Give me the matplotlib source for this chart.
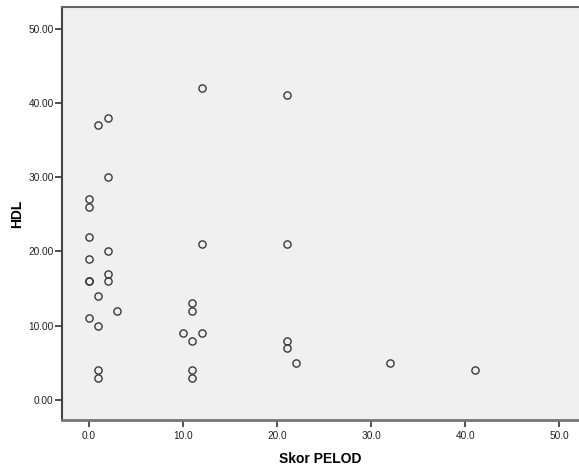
"""Scatter of HDL against Skor PELOD, SPSS-style."""

import matplotlib
matplotlib.use("Agg")
import matplotlib.pyplot as plt

plt.rcParams["font.family"] = ["Liberation Sans", "DejaVu Sans"]

# Values
skor_pelod = [1, 2, 12, 2, 0, 0, 0, 2, 0, 0, 0, 2, 2, 1, 3, 0, 1, 1, 1,
              12, 11, 11, 10, 12, 11, 11, 11,
              21, 21, 21, 21, 22, 32, 41]
hdl = [37, 38, 42, 30, 27, 26, 22, 20, 19, 16, 16, 17, 16, 14, 12, 11, 10, 4, 3,
       21, 13, 12, 9, 9, 8, 4, 3,
       41, 21, 8, 7, 5, 5, 4]

x_ticks = [0, 10, 20, 30, 40, 50]
y_ticks = [0, 10, 20, 30, 40, 50]

fig = plt.figure(figsize=(5.79, 4.67), dpi=100)
ax = fig.add_axes([62 / 579, 47 / 467, 517 / 579, 413 / 467])
ax.set_facecolor("#f0f0f0")

ax.plot(skor_pelod, hdl, linestyle="none", marker="o", markersize=5.2,
        markerfacecolor="none", markeredgecolor="#3a3a3a", markeredgewidth=1.0)

ax.set_xlim(-2.87, 52.1)
ax.set_ylim(-2.7, 52.9)
ax.set_xticks(x_ticks)
ax.set_xticklabels([f"{v:.1f}" for v in x_ticks])
ax.set_yticks(y_ticks)
ax.set_yticklabels([f"{v:.2f}" for v in y_ticks])

ax.tick_params(axis="both", direction="out", length=5, width=1.2,
               color="#333333", labelsize=7.3, labelcolor="#222222", pad=1)
ax.tick_params(axis="x", pad=3)

ax.spines["right"].set_visible(False)
ax.spines["left"].set_color("#444444")
ax.spines["left"].set_linewidth(1.5)
ax.spines["bottom"].set_color("#777777")
ax.spines["bottom"].set_linewidth(2)
ax.spines["top"].set_color("#666666")
ax.spines["top"].set_linewidth(1.5)

ax.set_xlabel("Skor PELOD", fontsize=10, fontweight="bold", labelpad=8)
ax.set_ylabel("HDL", fontsize=10, fontweight="bold", labelpad=3)

fig.savefig("out.png", dpi=100)
